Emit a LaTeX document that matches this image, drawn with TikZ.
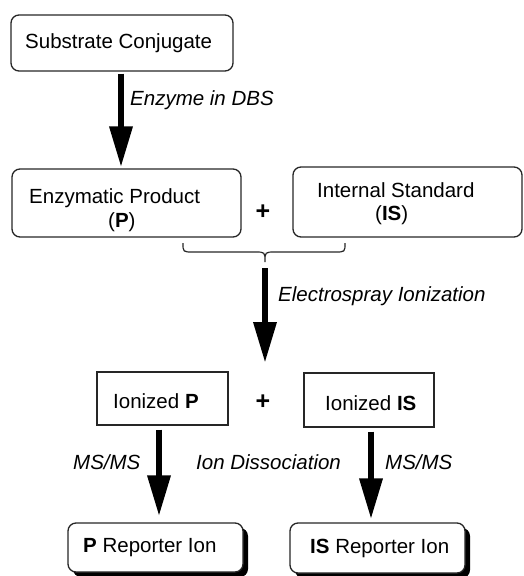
\documentclass[tikz,border=0pt]{standalone}
\usepackage{fontspec}
\setmainfont{Liberation Sans}
\usetikzlibrary{arrows.meta,shadows}

\begin{document}
\begin{tikzpicture}[x=1pt,y=-1pt,
  font=\fontsize{20.5}{23.5}\selectfont,
  box/.style={draw=black!85,line width=1.3pt,rounded corners=8pt,inner sep=0pt},
  sqbox/.style={draw=black!85,line width=1.3pt,inner sep=0pt},
  shbox/.style={box,fill=white,drop shadow={shadow xshift=5pt,shadow yshift=-5pt,fill=black,opacity=1}},
  txt/.style={inner sep=0pt,anchor=west,align=left},
  lbl/.style={inner sep=0pt,anchor=west,font=\fontsize{20.5}{23.5}\selectfont\itshape},
  plus/.style={inner sep=0pt,font=\fontsize{25}{28}\selectfont\bfseries},
  bigarrow/.style={line width=6.5pt,-{Triangle[length=41pt,width=22pt]}}]

\useasboundingbox (0,0) rectangle (524,576);

% boxes
\node[box,minimum width=222pt,minimum height=56pt] (sc) at (122,43) {};
\node[box,minimum width=229pt,minimum height=68pt] (ep) at (126.5,203) {};
\node[box,minimum width=229pt,minimum height=70pt] (is) at (407.5,202) {};
\node[sqbox,minimum width=131pt,minimum height=53pt] (ionP) at (162.5,398.5) {};
\node[sqbox,minimum width=130pt,minimum height=54pt] (ionIS) at (369,400) {};
\node[shbox,minimum width=175pt,minimum height=49pt] (repP) at (155.5,547.5) {};
\node[shbox,minimum width=175pt,minimum height=50pt] (repIS) at (377.5,548) {};

% box texts
\node[txt] (scT) at (25,43) {Substrate Conjugate};
\node[txt] (epT) at (29,210) {Enzymatic Product\\\hspace*{79pt}(\textbf{P})};
\node[txt] (isT) at (317,203.5) {Internal Standard\\\hspace*{58pt}(\textbf{IS})};
\node[txt] (ionPT) at (113,401) {Ionized \textbf{P}};
\node[txt] (ionIST) at (325,403) {Ionized \textbf{IS}};
\node[txt] (repPT) at (83,548) {\textbf{P} Reporter Ion};
\node[txt] (repIST) at (310,548) {\textbf{IS} Reporter Ion};

% plus signs
\node[plus] (plus1) at (263,212) {+};
\node[plus] (plus2) at (263,402) {+};

% step labels
\node[lbl] (l1) at (130,100) {Enzyme in DBS};
\node[lbl] (l2) at (278,296) {Electrospray Ionization};
\node[lbl] (l3) at (73,462) {MS/MS};
\node[lbl] (l4) at (196,462) {Ion Dissociation};
\node[lbl] (l5) at (385,462) {MS/MS};

% brace joining product and standard
\coordinate (bt) at (265,262);
\draw[black!85,line width=1.2pt]
  (183,243) .. controls (183,252) .. (193,252) -- (255,252)
  .. controls (265,252) .. (bt)
  .. controls (265,252) .. (275,252) -- (335,252)
  .. controls (345,252) .. (345,243);

% arrows
\draw[bigarrow] ([xshift=-1pt,yshift=-2pt]sc.south) -- ([xshift=-5.5pt,yshift=1pt]ep.north);
\coordinate (esEnd) at (265,363);
\draw[bigarrow] ([yshift=-6pt]bt) -- (esEnd);
\draw[bigarrow] ([xshift=-3.5pt,yshift=-4pt]ionP.south) -- ([xshift=3.5pt,yshift=6pt]repP.north);
\draw[bigarrow] ([xshift=2pt,yshift=-4pt]ionIS.south) -- ([xshift=-6.5pt,yshift=3pt]repIS.north);

\end{tikzpicture}
\end{document}
